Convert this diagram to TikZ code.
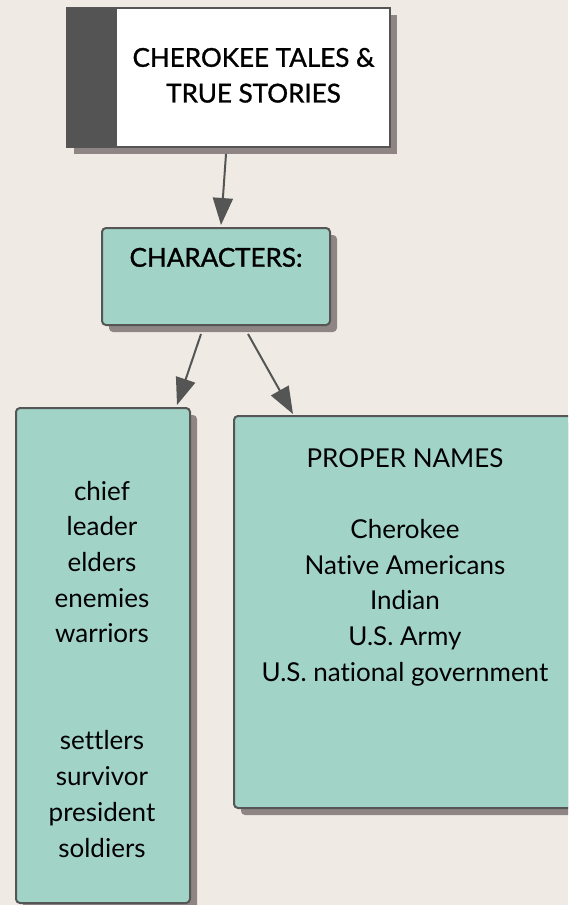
\documentclass[tikz,border=0pt]{standalone}
\usepackage{fontspec}
\setmainfont{Lato}[Ligatures={NoCommon,NoRare}]
\newfontfamily\headfont{Lato}[FakeBold=1.2,Ligatures={NoCommon,NoRare}]
\usetikzlibrary{arrows.meta,shadows}
\definecolor{bg}{HTML}{EFEBE4}
\definecolor{teal}{HTML}{A1D4C7}
\definecolor{edge}{HTML}{555555}
\definecolor{shade}{HTML}{8F8585}
\definecolor{band}{HTML}{545454}
\begin{document}
\begin{tikzpicture}[x=1pt,y=-1pt,
  txtfont/.style={font=\fontsize{26}{35.7}\selectfont},
  boxshadow/.style={drop shadow={shadow xshift=7pt,shadow yshift=-7pt,fill=shade,opacity=1}},
  topbox/.style={draw=edge,line width=2pt,fill=white,boxshadow,inner sep=0pt,txtfont,
    path picture={\fill[band] (path picture bounding box.north west) rectangle ([xshift=50pt]path picture bounding box.south west);}},
  tealbox/.style={draw=edge,line width=2pt,fill=teal,rounded corners=4pt,boxshadow,inner sep=0pt,txtfont},
  listtext/.style={inner sep=0pt,anchor=base,txtfont},
  arr/.style={draw=edge,line width=2pt,-{Triangle[length=27pt,width=20pt]}}]
\useasboundingbox (0,0) rectangle (568,905);
\fill[bg] (0,0) rectangle (568,905);
\begin{scope}
\clip (0,0) rectangle (568,905);
\node[topbox,minimum width=323pt,minimum height=139pt] (top) at (228.5,77.5)
  {\hspace*{50pt}\headfont\begin{tabular}{@{}c@{}}CHEROKEE TALES \&\\TRUE STORIES\end{tabular}};
\node[tealbox,minimum width=228pt,minimum height=97pt] (chars) at (216,276.5)
  {\raisebox{9.8pt}[0pt][0pt]{\headfont CHARACTERS:}};
\node[tealbox,minimum width=174pt,minimum height=495pt] (left) at (103,655.5) {};
\node[tealbox,minimum width=342pt,minimum height=392pt] (right) at (405,612) {};
\node[listtext] (lefttext) at (102,500)
  {\begin{tabular}[t]{@{}c@{}}chief\\leader\\elders\\enemies\\warriors\\ \\ \\settlers\\survivor\\president\\soldiers\end{tabular}};
\node[listtext] (righttext) at (405,467)
  {\begin{tabular}[t]{@{}c@{}}PROPER NAMES\\ \\Cherokee\\Native Americans\\Indian\\U.S. Army\\U.S. national government\end{tabular}};
\draw[arr] ([xshift=-2.5pt,yshift=-6pt]top.south) -- ([xshift=5pt,yshift=2pt]chars.north);
\draw[arr] ([xshift=-15pt,yshift=-8pt]chars.south) -- ([xshift=74pt,yshift=2pt]left.north);
\draw[arr] ([xshift=32pt,yshift=-8pt]chars.south) -- ([xshift=-112pt,yshift=1pt]right.north);
\end{scope}
\end{tikzpicture}
\end{document}
